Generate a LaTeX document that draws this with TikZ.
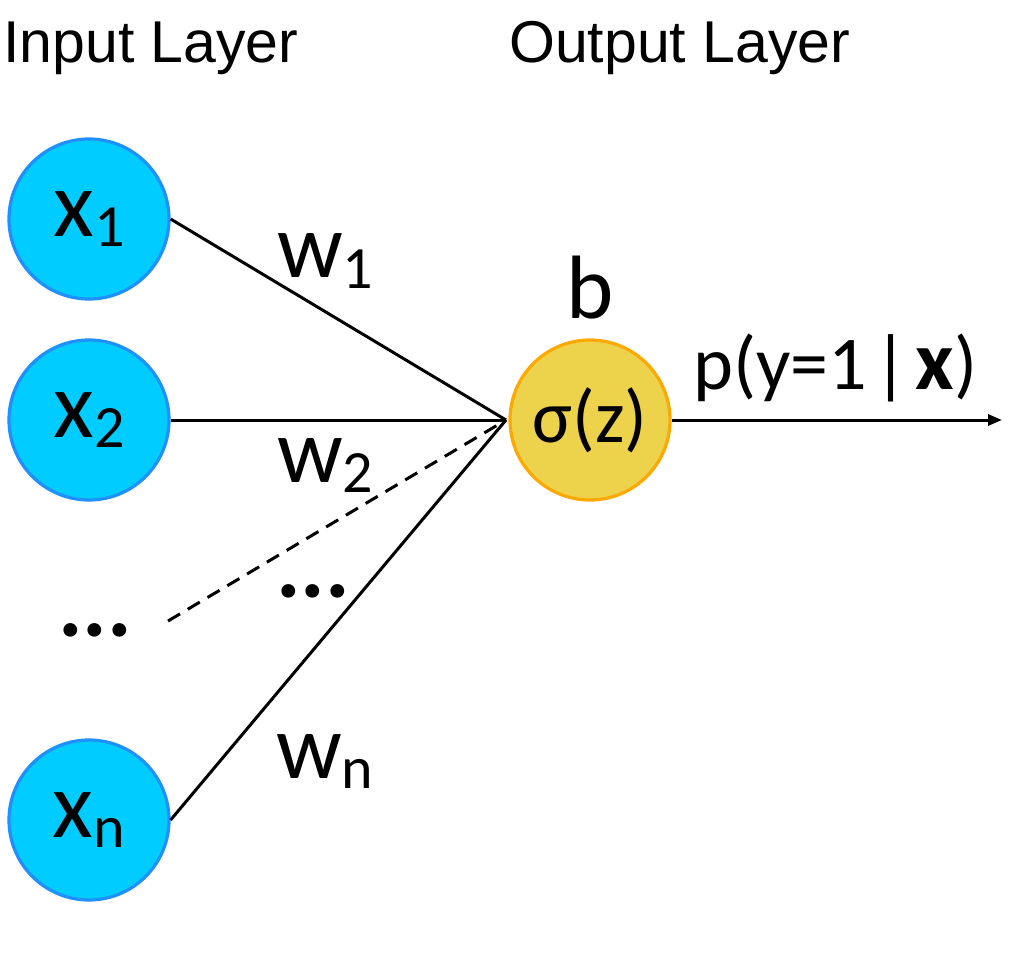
\documentclass[tikz,border=0pt]{standalone}
\usepackage{fontspec}
\setmainfont{Carlito}
\newfontfamily\arialfont{Liberation Sans}
\usetikzlibrary{arrows.meta}
\definecolor{infill}{HTML}{00CCFF}
\definecolor{indraw}{HTML}{1E90FF}
\definecolor{outfill}{HTML}{EDD24B}
\definecolor{outdraw}{HTML}{FFA800}
\newcommand{\subs}[1]{\raisebox{-10pt}{\fontsize{60}{60}\selectfont #1}}
\tikzset{
  inneuron/.style={circle, minimum size=160pt, inner sep=0pt, fill=infill, draw=indraw, line width=3.2pt, font=\fontsize{94}{94}\selectfont},
  outneuron/.style={circle, minimum size=160pt, inner sep=0pt, fill=outfill, draw=outdraw, line width=3.2pt, font=\fontsize{75}{75}\selectfont},
  title/.style={anchor=base west, inner sep=0pt, font=\arialfont\fontsize{59}{59}\selectfont},
  wlabel/.style={anchor=base west, inner sep=0pt, font=\fontsize{92}{92}\selectfont},
  dots/.style={anchor=base west, inner sep=0pt, font=\bfseries\fontsize{92}{92}\selectfont},
  biglabel/.style={inner sep=0pt, font=\fontsize{76}{76}\selectfont},
  conn/.style={line width=3pt, black},
}
\begin{document}
\begin{tikzpicture}[x=1pt, y=-1pt]
\useasboundingbox (0,0) rectangle (1018,960);
% titles
\node[title] (tin) at (3,63) {Input Layer};
\node[title] (tout) at (509,63) {Output Layer};
% neurons
\node[inneuron] (x1) at (89,219) {x\subs{1}};
\node[inneuron] (x2) at (89,420) {x\subs{2}};
\node[inneuron] (xn) at (89,820) {x\subs{n}};
\node[outneuron] (out) at (590,420) {σ(z)};
% connectors
\coordinate (c) at (506,420);
\coordinate (d) at (168,621);
\coordinate (e) at (1002,420);
\draw[conn] (x1.east) -- (c);
\draw[conn] (x2.east) -- (c);
\draw[conn] (xn.east) -- (c);
\draw[conn, dash pattern=on 14pt off 9pt] (d) -- (c);
\draw[conn, -{Triangle[length=14pt,width=11pt]}] (out.east) -- (e);
% weight labels
\node[wlabel] (w1) at (277,278) {w\subs{1}};
\node[wlabel] (w2) at (277,482) {w\subs{2}};
\node[wlabel] (wn) at (276,778) {w\subs{n}};
\node[dots] (dm) at (276,597) {...};
\node[dots] (dl) at (58,636) {...};
% bias and output
\node[inner sep=0pt, anchor=base, font=\fontsize{90}{90}\selectfont] (b) at (590,318) {b};
\node[biglabel, anchor=base west] (p) at (693,389) {p(y=1\hspace{7pt}|\hspace{7pt}{\fontsize{84}{84}\selectfont\textbf{x}})};
\end{tikzpicture}
\end{document}
